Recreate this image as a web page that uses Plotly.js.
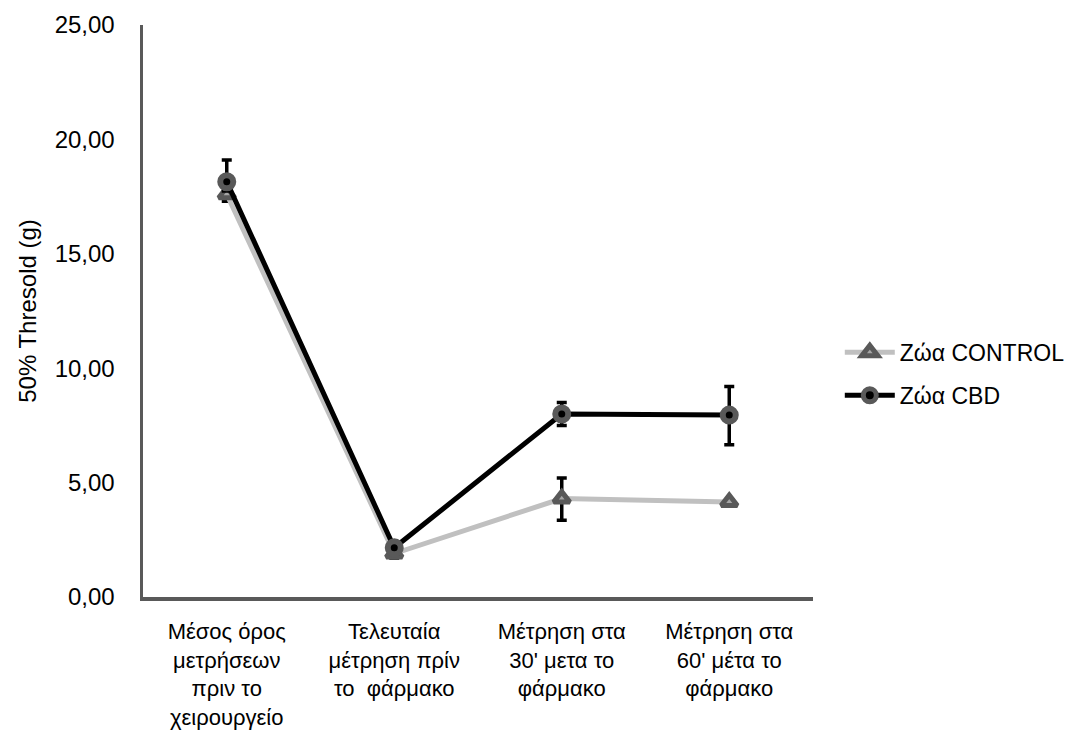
<!DOCTYPE html>
<html>
<head>
<meta charset="utf-8">
<script src="https://cdn.plot.ly/plotly-3.0.1.min.js"></script>
<style>
  html, body { margin: 0; padding: 0; background: #ffffff; }
  #chart { width: 1086px; height: 735px; }
</style>
</head>
<body>
<div id="chart"></div>
<script>
// Time points of the measurement protocol
const categories = [
  'Μέσος όρος<br>μετρήσεων<br>πριν το<br>χειρουργείο',
  'Τελευταία<br>μέτρηση πρίν<br>το  φάρμακο',
  'Μέτρηση στα<br>30\' μετα το<br>φάρμακο',
  'Μέτρηση στα<br>60\' μέτα το<br>φάρμακο'
];

// 50% withdrawal threshold (g), mean per group
const controlValues = [17.6, 1.9, 4.3, 4.15];
const cbdValues = [18.15, 2.15, 8.0, 7.95];

// Error bars per group (upper / lower)
const controlErrUp = [0.3, 0.2, 0.9, 0.1];
const controlErrDown = [0.3, 0.2, 0.95, 0.1];
const cbdErrUp = [0.95, 0.25, 0.5, 1.25];
const cbdErrDown = [0.4, 0.25, 0.5, 1.3];

const seriesNames = ['Ζώα CONTROL', 'Ζώα CBD'];
const xIndex = categories.map((_, i) => i);

const FONT = 'Liberation Sans, Arial, sans-serif';

const control = {
  type: 'scatter',
  mode: 'lines+markers',
  name: seriesNames[0],
  legendgroup: 'a',
  x: xIndex,
  y: controlValues,
  line: { color: '#c0c0c0', width: 5 },
  marker: { symbol: 'triangle-up', size: 14, color: '#a6a6a6',
            line: { color: '#595959', width: 5 } },
  error_y: { type: 'data', symmetric: false, array: controlErrUp, arrayminus: controlErrDown,
             visible: true, color: '#000000', thickness: 3.5, width: 5 }
};

const cbd = {
  type: 'scatter',
  mode: 'lines+markers',
  name: seriesNames[1],
  legendgroup: 'b',
  x: xIndex,
  y: cbdValues,
  line: { color: '#000000', width: 5 },
  marker: { symbol: 'circle', size: 13, color: '#000000',
            line: { color: '#595959', width: 6 } },
  error_y: { type: 'data', symmetric: false, array: cbdErrUp, arrayminus: cbdErrDown,
             visible: true, color: '#000000', thickness: 3.5, width: 5 }
};

const layout = {
  width: 1086,
  height: 735,
  margin: { l: 143, r: 273, t: 25, b: 138 },
  paper_bgcolor: '#ffffff',
  plot_bgcolor: '#ffffff',
  separators: ',.',
  font: { family: FONT, color: '#000000', size: 22 },
  showlegend: true,
  legend: {
    x: 1.04, xanchor: 'left',
    y: 0.39, yanchor: 'middle',
    font: { family: FONT, size: 23, color: '#000000' },
    traceorder: 'grouped',
    tracegroupgap: 10,
    itemwidth: 50,
    bgcolor: 'rgba(0,0,0,0)'
  },
  xaxis: {
    range: [-0.5, 3.5],
    tickmode: 'array',
    tickvals: xIndex,
    ticktext: categories,
    ticks: '',
    ticklabelstandoff: 12,
    showgrid: false,
    zeroline: false,
    showline: true,
    linecolor: '#595959',
    linewidth: 3.5,
    tickfont: { family: FONT, size: 22, color: '#000000' },
    fixedrange: true
  },
  yaxis: {
    range: [0, 25],
    tickmode: 'linear',
    tick0: 0,
    dtick: 5,
    tickformat: '.2f',
    ticks: '',
    ticklabelstandoff: 20,
    showgrid: false,
    zeroline: false,
    showline: true,
    linecolor: '#595959',
    linewidth: 3.5,
    tickfont: { family: FONT, size: 24, color: '#000000' },
    title: { text: '50% Thresold (g)', font: { family: FONT, size: 24, color: '#000000' }, standoff: 12 },
    fixedrange: true
  }
};

Plotly.newPlot('chart', [control, cbd], layout, { displayModeBar: false, staticPlot: true });
</script>
</body>
</html>
